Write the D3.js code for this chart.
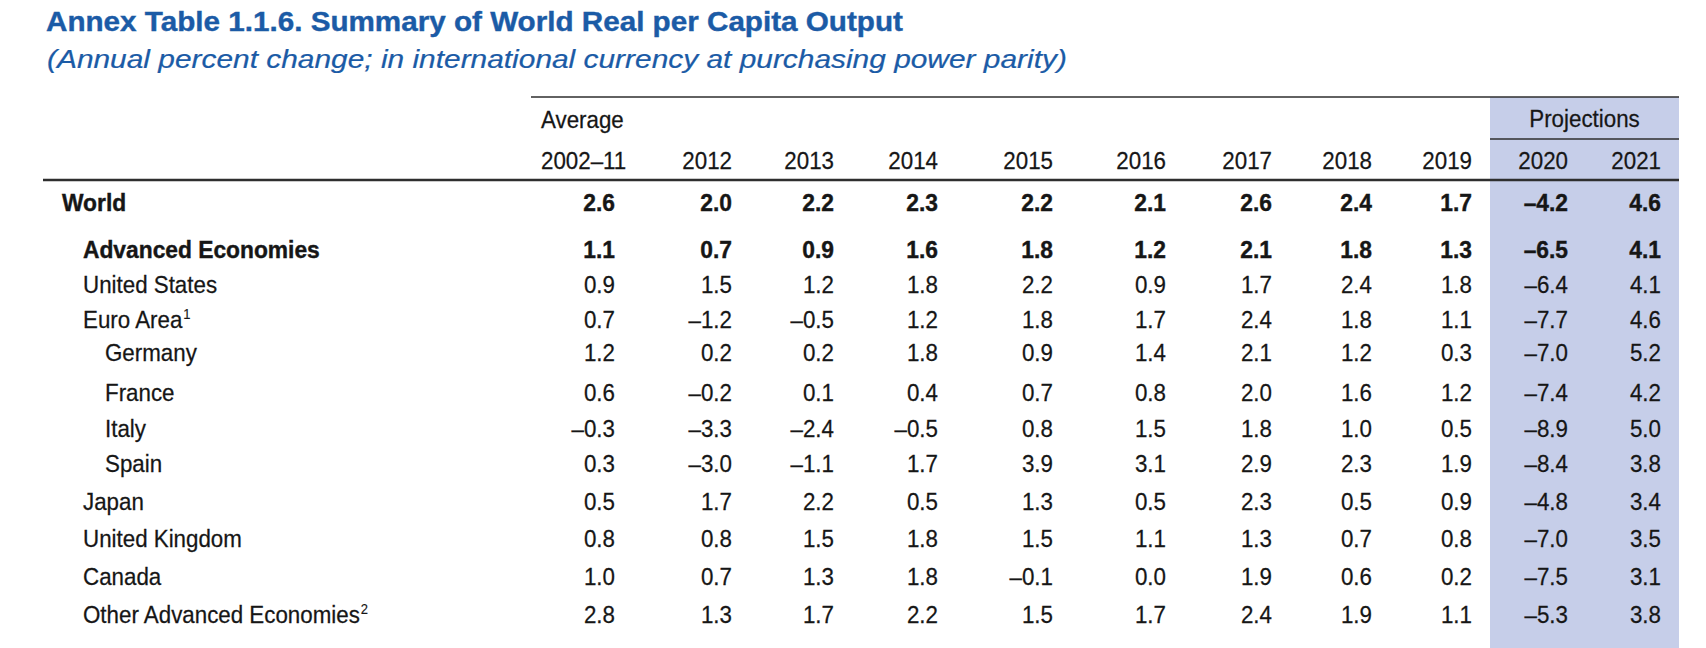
<!DOCTYPE html>
<html>
<head>
<meta charset="utf-8">
<script src="https://cdn.jsdelivr.net/npm/d3@7"></script>
<style>
  html, body { margin: 0; padding: 0; background: #ffffff; }
  svg { display: block; }
</style>
</head>
<body>
<div id="chart"></div>
<script>
// ---------------- DATA ----------------
const titleText = "Annex Table 1.1.6. Summary of World Real per Capita Output";
const subtitleText = "(Annual percent change; in international currency at purchasing power parity)";

const rowLabels = [
  "World", "Advanced Economies", "United States", "Euro Area", "Germany",
  "France", "Italy", "Spain", "Japan", "United Kingdom", "Canada",
  "Other Advanced Economies"
];
const rowNotes = ["", "", "", "1", "", "", "", "", "", "", "", "2"];
const rowLevels = [0, 1, 1, 1, 2, 2, 2, 2, 1, 1, 1, 1];
const rowBold = [true, true, false, false, false, false, false, false, false, false, false, false];

const columnLabels = ["2002–11", "2012", "2013", "2014", "2015", "2016", "2017", "2018", "2019", "2020", "2021"];
const averageLabel = "Average";
const projectionsLabel = "Projections";

const avg2002_11 = [2.6, 1.1, 0.9, 0.7, 1.2, 0.6, -0.3, 0.3, 0.5, 0.8, 1.0, 2.8];
const v2012 = [2.0, 0.7, 1.5, -1.2, 0.2, -0.2, -3.3, -3.0, 1.7, 0.8, 0.7, 1.3];
const v2013 = [2.2, 0.9, 1.2, -0.5, 0.2, 0.1, -2.4, -1.1, 2.2, 1.5, 1.3, 1.7];
const v2014 = [2.3, 1.6, 1.8, 1.2, 1.8, 0.4, -0.5, 1.7, 0.5, 1.8, 1.8, 2.2];
const v2015 = [2.2, 1.8, 2.2, 1.8, 0.9, 0.7, 0.8, 3.9, 1.3, 1.5, -0.1, 1.5];
const v2016 = [2.1, 1.2, 0.9, 1.7, 1.4, 0.8, 1.5, 3.1, 0.5, 1.1, 0.0, 1.7];
const v2017 = [2.6, 2.1, 1.7, 2.4, 2.1, 2.0, 1.8, 2.9, 2.3, 1.3, 1.9, 2.4];
const v2018 = [2.4, 1.8, 2.4, 1.8, 1.2, 1.6, 1.0, 2.3, 0.5, 0.7, 0.6, 1.9];
const v2019 = [1.7, 1.3, 1.8, 1.1, 0.3, 1.2, 0.5, 1.9, 0.9, 0.8, 0.2, 1.1];
const v2020 = [-4.2, -6.5, -6.4, -7.7, -7.0, -7.4, -8.9, -8.4, -4.8, -7.0, -7.5, -5.3];
const v2021 = [4.6, 4.1, 4.1, 4.6, 5.2, 4.2, 5.0, 3.8, 3.4, 3.5, 3.1, 3.8];

const seriesValues = [avg2002_11, v2012, v2013, v2014, v2015, v2016, v2017, v2018, v2019, v2020, v2021];

// ---------------- LAYOUT ----------------
const W = 1706, H = 648;
const FONT = "'Liberation Sans Narrow', 'Liberation Sans', Arial, sans-serif";
const TEXT_COLOR = "#161616";
const TITLE_COLOR = "#1b5ba6";
const SHADE = "#c6cee9";
const RULE = "#2e2e2e";

const svg = d3.select("#chart").append("svg")
  .attr("width", W).attr("height", H)
  .attr("viewBox", `0 0 ${W} ${H}`);

// measure helper for horizontal fitting
function measure(str, size, weight, style) {
  const t = svg.append("text")
    .attr("font-family", FONT).attr("font-size", size)
    .attr("font-weight", weight || "normal").attr("font-style", style || "normal")
    .text(str);
  const w = t.node().getComputedTextLength();
  t.remove();
  return w;
}

const BODY = 24;
const sxReg = 277 / measure("Other Advanced Economies", BODY, "normal");
const sxBold = 237 / measure("Advanced Economies", BODY, "bold");
const sxTitle = 857 / measure(titleText, 28, "bold");
const sxSub = 1020 / measure(subtitleText, 25, "normal", "italic");

// scales
const x = d3.scaleOrdinal()
  .domain(columnLabels)
  .range([615, 732, 834, 938, 1053, 1166, 1272, 1372, 1472, 1568, 1661]);
const y = d3.scaleOrdinal()
  .domain(rowLabels)
  .range([211, 258, 293, 328, 361, 401, 437, 472, 510, 547, 585, 623]);
const indentX = d3.scaleOrdinal().domain([0, 1, 2]).range([62, 83, 105]);

const fmt = v => d3.format(".1f")(v).replace(/[\u2212-]/g, "\u2013");

// shaded projections block
const shadeLeft = 1490, shadeRight = 1679;
svg.append("rect")
  .attr("x", shadeLeft).attr("y", 97)
  .attr("width", shadeRight - shadeLeft).attr("height", H - 97)
  .attr("fill", SHADE);

// rules
svg.append("line").attr("x1", 531).attr("x2", shadeRight).attr("y1", 97).attr("y2", 97)
  .attr("stroke", RULE).attr("stroke-width", 1.6);
svg.append("line").attr("x1", shadeLeft).attr("x2", shadeRight).attr("y1", 139).attr("y2", 139)
  .attr("stroke", RULE).attr("stroke-width", 1.6);
svg.append("line").attr("x1", 43).attr("x2", shadeRight).attr("y1", 180).attr("y2", 180)
  .attr("stroke", RULE).attr("stroke-width", 2.6);

// generic text placer
function placeText(parent, str, px, py, opts) {
  const g = parent.append("g").attr("transform", `translate(${px},${py})`);
  const t = g.append("text")
    .attr("transform", `scale(${opts.sx},1)`)
    .attr("font-family", FONT)
    .attr("font-size", opts.size)
    .attr("font-weight", opts.weight || "normal")
    .attr("font-style", opts.style || "normal")
    .attr("text-anchor", opts.anchor || "start")
    .attr("fill", opts.fill || TEXT_COLOR)
    .attr("stroke", opts.fill || TEXT_COLOR)
    .attr("stroke-width", opts.stroke || 0.25)
    .text(str);
  return t;
}

// title & subtitle
placeText(svg, titleText, 46, 31, { sx: sxTitle, size: 28, weight: "bold", fill: TITLE_COLOR, stroke: 0.4 });
placeText(svg, subtitleText, 47, 68, { sx: sxSub, size: 25, style: "italic", fill: TITLE_COLOR, stroke: 0.2 });

// header
const header = svg.append("g");
placeText(header, averageLabel, 541, 128, { sx: sxReg, size: BODY });
placeText(header, projectionsLabel, (shadeLeft + shadeRight) / 2, 127, { sx: sxReg, size: BODY, anchor: "middle" });
columnLabels.forEach((c, i) => {
  if (i === 0) placeText(header, c, 541, 169, { sx: sxReg, size: BODY });
  else placeText(header, c, x(c), 169, { sx: sxReg, size: BODY, anchor: "end" });
});

// rows
const body = svg.append("g");
rowLabels.forEach((r, ri) => {
  const b = rowBold[ri];
  const t = placeText(body, r, indentX(rowLevels[ri]), y(r), {
    sx: b ? sxBold : sxReg, size: BODY, weight: b ? "bold" : "normal", stroke: b ? 0.4 : 0.25
  });
  if (rowNotes[ri]) {
    t.append("tspan").attr("dy", -9).attr("dx", 1).attr("font-size", 14).attr("stroke-width", 0.15).text(rowNotes[ri]);
  }
  columnLabels.forEach((c, ci) => {
    placeText(body, fmt(seriesValues[ci][ri]), x(c), y(r), {
      sx: b ? sxBold : sxReg, size: BODY, weight: b ? "bold" : "normal", anchor: "end", stroke: b ? 0.4 : 0.25
    });
  });
});
</script>
</body>
</html>
